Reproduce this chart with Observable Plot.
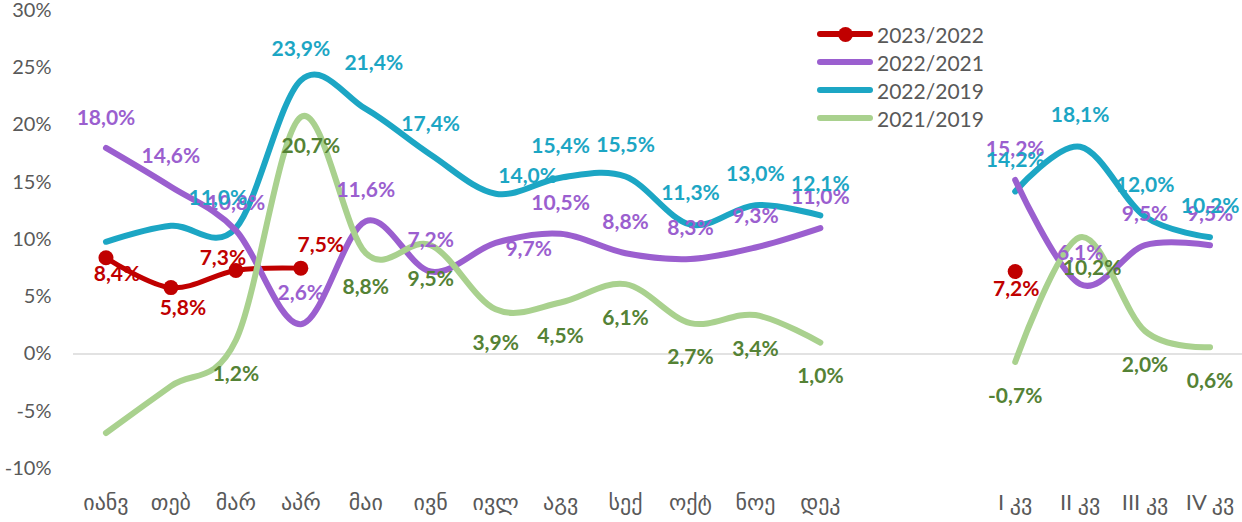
<!DOCTYPE html>
<html>
<head>
<meta charset="utf-8">
<script src="https://cdn.jsdelivr.net/npm/d3@7"></script>
<script src="https://cdn.jsdelivr.net/npm/@observablehq/plot@0.6"></script>
<style>
  html, body { margin: 0; padding: 0; background: #fff; }
  #wrap { position: relative; width: 1242px; height: 522px; font-family: Lato, "DejaVu Sans", sans-serif; }
  #legend { position: absolute; left: 817px; top: 20px; color: #595959; font-size: 21px; }
  #legend .row { display: flex; align-items: center; height: 28px; }
  #legend .sw { position: relative; width: 56px; height: 6px; border-radius: 3px; margin-right: 4px; }
  #legend .sw .dot { position: absolute; left: 20.5px; top: -4.5px; width: 15px; height: 15px; border-radius: 50%; }
</style>
</head>
<body>
<div id="wrap"><div id="chart"></div><div id="legend"></div></div>
<script>
const months = ["იანვ","თებ","მარ","აპრ","მაი","ივნ","ივლ","აგვ","სექ","ოქტ","ნოე","დეკ"];
const quarters = ["I კვ","II კვ","III კვ","IV კვ"];
const gaps = ["gap1","gap2"];
const categories = [...months, ...gaps, ...quarters];

const seriesNames = ["2023/2022","2022/2021","2022/2019","2021/2019"];
const s2023_2022 = [8.4,5.8,7.3,7.5,null,null,null,null,null,null,null,null, null,null, 7.2,null,null,null];
const s2022_2021 = [18.0,14.6,10.8,2.6,11.6,7.2,9.7,10.5,8.8,8.3,9.3,11.0, null,null, 15.2,6.1,9.5,9.5];
const s2022_2019 = [9.8,11.2,11.0,23.9,21.4,17.4,14.0,15.4,15.5,11.3,13.0,12.1, null,null, 14.2,18.1,12.0,10.2];
const s2021_2019 = [-6.9,-2.8,1.2,20.7,8.8,9.5,3.9,4.5,6.1,2.7,3.4,1.0, null,null, -0.7,10.2,2.0,0.6];
// categories whose data labels are not shown
const hiddenLabels = {"2022/2019": ["იანვ","თებ"], "2021/2019": ["იანვ","თებ"]};
const yTicks = [-10,-5,0,5,10,15,20,25,30];

const colors = {"2023/2022":"#C00000","2022/2021":"#9B5FCF","2022/2019":"#1CA6C4","2021/2019":"#A9D18E"};
const labelColors = {"2023/2022":"#C00000","2022/2021":"#9B5FCF","2022/2019":"#1CA6C4","2021/2019":"#548235"};
const widths = {"2023/2022":5,"2022/2021":6,"2022/2019":6,"2021/2019":6};
const defaultOffset = {"2023/2022":[0,18],"2022/2021":[0,-31],"2022/2019":[0,-31],"2021/2019":[0,34]};
const labelNudge = {
  "2023/2022|იანვ":[11,16], "2023/2022|თებ":[12,21], "2023/2022|მარ":[-13,-12], "2023/2022|აპრ":[20,-23], "2023/2022|I კვ":[1,18],
  "2022/2019|მარ":[-18,-30], "2022/2019|მაი":[8,-46], "2022/2019|ივლ":[32,-17],
  "2022/2021|იანვ":[0,-30], "2022/2021|მარ":[0,-27], "2022/2021|ივლ":[33,6],
  "2021/2019|აპრ":[10,29], "2021/2019|II კვ":[12,31]
};

const valuesBySeries = {"2023/2022":s2023_2022,"2022/2021":s2022_2021,"2022/2019":s2022_2019,"2021/2019":s2021_2019};
const rows = {};
for (const s of seriesNames) rows[s] = categories.map((c,i) => ({series:s, cat:c, v: valuesBySeries[s][i]}));

const fmt = d => d.v.toFixed(1).replace(".", ",") + "%";
const FONT = 'Lato, "DejaVu Sans", sans-serif';

const marks = [
  Plot.ruleY([0], {stroke:"#D9D9D9", strokeWidth:1.5}),
  Plot.axisY({ticks: yTicks, label: null, tickSize: 0, tickPadding: 22, tickFormat: d => d + "%", fontSize: 20}),
  Plot.axisX({label: null, tickSize: 0, tickPadding: 26, fontSize: 22, tickFormat: d => gaps.includes(d) ? "" : d})
];
const drawOrder = ["2023/2022","2022/2019","2022/2021","2021/2019"];
for (const s of drawOrder) {
  if (s === "2023/2022") {
    marks.push(Plot.lineY(rows[s], {x:"cat", y:"v", stroke:colors[s], strokeWidth:widths[s], curve:"cardinal"}));
    marks.push(Plot.dot(rows[s].filter(d => d.v != null), {x:"cat", y:"v", r:7.5, fill:colors[s]}));
  } else {
    marks.push(Plot.lineY(rows[s], {x:"cat", y:"v", stroke:colors[s], strokeWidth:widths[s], curve:"cardinal", strokeLinecap:"round"}));
  }
}
// data labels grouped by offset
for (const s of seriesNames) {
  const hidden = hiddenLabels[s] || [];
  const groups = new Map();
  for (const d of rows[s]) {
    if (d.v == null || hidden.includes(d.cat)) continue;
    const off = labelNudge[s + "|" + d.cat] || defaultOffset[s];
    const k = off.join(",");
    if (!groups.has(k)) groups.set(k, {off, data: []});
    groups.get(k).data.push(d);
  }
  for (const {off, data} of groups.values()) {
    marks.push(Plot.text(data, {x:"cat", y:"v", text: fmt, dx: off[0], dy: off[1], fill: labelColors[s],
      fontWeight:"bold", fontSize:21, fontFamily: FONT}));
  }
}

const chart = Plot.plot({
  width: 1242, height: 522,
  marginLeft: 73, marginRight: 0, marginTop: 10, marginBottom: 54,
  style: {fontFamily: FONT, fontSize: "20px", color: "#595959", background: "#fff", overflow: "visible"},
  x: {type:"point", domain: categories, padding: 0.5, round: false},
  y: {domain:[-10,30]},
  marks
});
document.getElementById("chart").appendChild(chart);

const legend = document.getElementById("legend");
for (const s of seriesNames) {
  const row = document.createElement("div"); row.className = "row";
  const sw = document.createElement("div"); sw.className = "sw"; sw.style.background = colors[s];
  if (s === "2023/2022") { const dot = document.createElement("div"); dot.className = "dot"; dot.style.background = colors[s]; sw.appendChild(dot); }
  const t = document.createElement("span"); t.textContent = s;
  row.appendChild(sw); row.appendChild(t); legend.appendChild(row);
}
</script>
</body>
</html>
